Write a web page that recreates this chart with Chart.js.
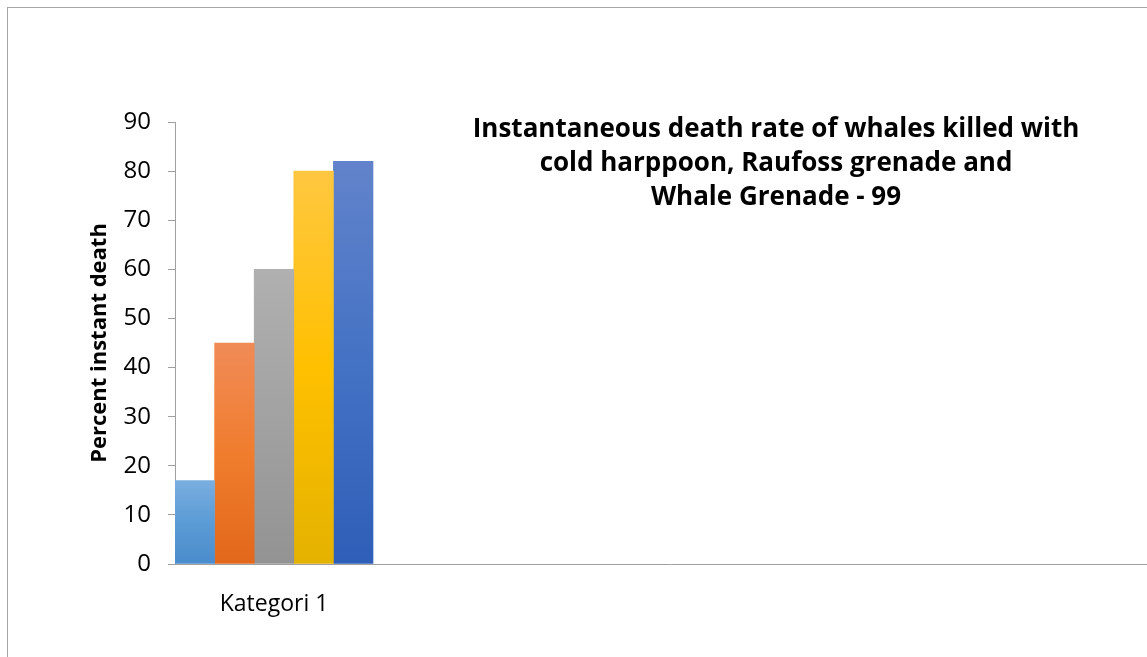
<!DOCTYPE html>
<html>
<head>
<meta charset="utf-8">
<script src="https://cdn.jsdelivr.net/npm/chart.js@4/dist/chart.umd.min.js"></script>
<style>
html,body{margin:0;padding:0;background:#fff;overflow:hidden;width:1147px;height:657px;}
#frame{position:absolute;left:7px;top:7px;width:1300px;height:720px;border-left:1px solid #a6a6a6;border-top:1px solid #a6a6a6;}
#wrap{position:absolute;left:8px;top:8px;width:1200px;height:700px;}
</style>
</head>
<body>
<div id="frame"></div>
<div id="wrap"><canvas id="c" width="1200" height="700"></canvas></div>
<script>
const categories = ['Kategori 1', '', '', '', ''];
const seriesNames = ['Series 1', 'Series 2', 'Series 3', 'Series 4', 'Series 5'];
const seriesValues = [[17], [45], [60], [80], [82]];
const yTicks = [0, 10, 20, 30, 40, 50, 60, 70, 80, 90];
const titleLines = ['Instantaneous death rate of whales killed with', 'cold harppoon, Raufoss grenade and', 'Whale Grenade - 99'];
const yTitle = 'Percent instant death';
// gradient stops: top, middle, bottom
const palettes = [
  ['#7aaee0', '#5b9bd5', '#4a8ccc'],
  ['#f08b57', '#f07d2e', '#e2681b'],
  ['#b0b0b0', '#a2a2a2', '#939393'],
  ['#ffc740', '#ffc000', '#e4b200'],
  ['#6283cb', '#4472c4', '#2f5eb8']
];
const FONT = '"Open Sans", Lato, sans-serif';

function gradFor(idx) {
  return function(ctx) {
    const chart = ctx.chart;
    const y = chart.scales.y;
    if (!y || ctx.raw === undefined) return palettes[idx][1];
    const top = y.getPixelForValue(ctx.raw);
    const base = y.getPixelForValue(0);
    if (!isFinite(top) || !isFinite(base) || top === base) return palettes[idx][1];
    const g = chart.ctx.createLinearGradient(0, top, 0, base);
    g.addColorStop(0, palettes[idx][0]);
    g.addColorStop(0.5, palettes[idx][1]);
    g.addColorStop(1, palettes[idx][2]);
    return g;
  };
}

const titlePlugin = {
  id: 'sideTitle',
  afterDraw(chart) {
    const c = chart.ctx;
    c.save();
    c.font = 'bold 26px ' + FONT;
    c.fillStyle = '#000';
    c.textAlign = 'center';
    c.textBaseline = 'middle';
    const cx = 776 - 8;
    const y0 = 130 - 8;
    titleLines.forEach((t, i) => c.fillText(t, cx, y0 + i * 34));
    c.restore();
  }
};

new Chart(document.getElementById('c'), {
  type: 'bar',
  data: {
    labels: categories,
    datasets: seriesValues.map((v, i) => ({
      label: seriesNames[i],
      data: v,
      backgroundColor: gradFor(i),
      borderWidth: 0,
      categoryPercentage: 1.0,
      barPercentage: 1.0
    }))
  },
  options: {
    responsive: false,
    animation: false,
    layout: { padding: { top: 114, left: 0, right: 43, bottom: 0 } },
    plugins: { legend: { display: false }, tooltip: { enabled: false }, title: { display: false } },
    scales: {
      x: {
        grid: { display: false },
        border: { display: true, color: '#a0a0a0', width: 1 },
        ticks: { color: '#000', font: { family: FONT, size: 23 }, padding: 19, maxRotation: 0, autoSkip: false },
        afterFit(s) { s.height = 144; }
      },
      y: {
        min: 0, max: 90,
        afterBuildTicks(s) { s.ticks = yTicks.map(v => ({ value: v })); },
        grid: { drawOnChartArea: false, drawTicks: true, tickLength: 7, color: '#a0a0a0' },
        border: { display: true, color: '#a0a0a0', width: 1 },
        ticks: { color: '#000', font: { family: FONT, size: 24 }, padding: 17 },
        title: { display: true, text: yTitle, color: '#000', font: { family: FONT, size: 22, weight: 'bold' }, padding: { top: 79, bottom: 0 } },
        afterFit(s) { s.width = 167; }
      }
    }
  },
  plugins: [titlePlugin]
});
</script>
</body>
</html>
